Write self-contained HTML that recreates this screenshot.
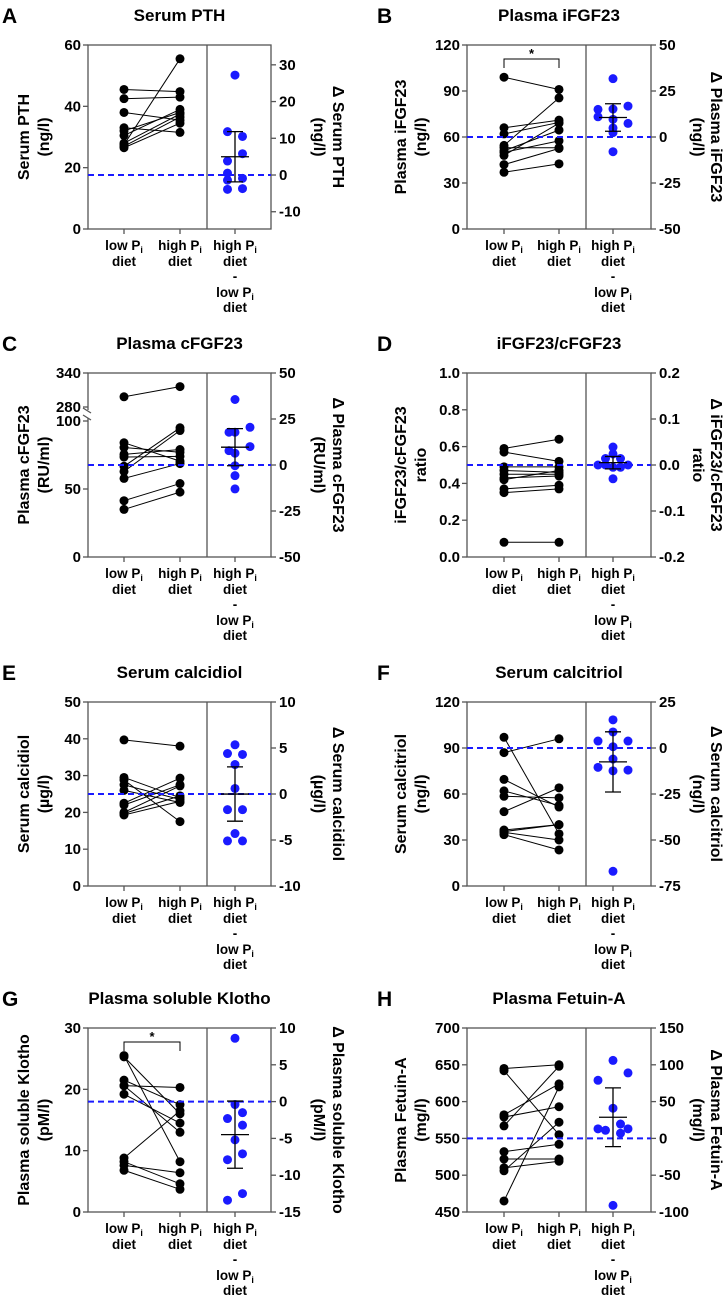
<!DOCTYPE html>
<html><head><meta charset="utf-8"><style>
html,body{margin:0;padding:0;background:#fff;}
svg{display:block;font-family:"Liberation Sans",Arial,sans-serif;font-weight:bold;}
</style></head><body>
<svg id="fig" width="723" height="1299" viewBox="0 0 723 1299" xmlns="http://www.w3.org/2000/svg"></svg>
<script>
// ---- data (pairs: low[i] -> high[i]; deltas with jitter column) ----
const lowA=[45.5,42.5,38,33,32,30.5,28,27.5,27,26.5];
const highA=[44.8,43,35.5,31.5,38,39,37.5,55.5,36.5,34.5];
const deltaA=[27.2,11.8,10.5,5.8,3.8,0.5,-1.4,-0.9,-3.9,-3.7];
const jitA=[0,-1,1,1,-1,-1,-1,1,-1,1];
const lowB=[99,66,62,54.5,53,51,50,48,42,37];
const highB=[91,71,69.5,85.5,53,64.5,57.5,69,52.5,42.5];
const deltaB=[31.7,15,15.2,16.8,11,7.4,4.9,-8,2.4,9.6];
const jitB=[0,-2,0,2,-2,2,0,0,0,0];
const lowC=[298,84,80.5,75.5,73.5,66.7,62.9,57.8,41.4,35];
const highC=[316,70.5,77,79,74,95,93,68.7,54,47.7];
const deltaC=[35.6,17.8,17.8,20.5,7.8,10,6.4,-0.4,-5.8,-13];
const jitC=[0,-0.8,0,2,-0.8,2,0,0,0,0];
const lowD=[0.59,0.57,0.49,0.47,0.45,0.43,0.42,0.37,0.35,0.08];
const highD=[0.64,0.52,0.49,0.46,0.45,0.44,0.47,0.39,0.37,0.08];
const deltaD=[0.039,0.024,0.014,0.014,0,0,0,-0.005,-0.005,-0.03];
const jitD=[0,0,-1,1,-2,-1,2,0,1,0];
const lowE=[39.7,29.5,28.8,27.5,26,22.5,22,19.7,19.3,20];
const highE=[38,24,17.5,23.5,22.7,29.3,27.5,24.5,23,27.2];
const deltaE=[5.35,4.4,4.3,3.2,0.6,-1.7,-1.7,-4.3,-5.1,-5.1];
const jitE=[0,-1,1,0,0,-1,1,0,-1,1];
const lowF=[97,87,69.5,62,58.5,48.5,36.5,35.5,35,33.5];
const highF=[34,96,51.5,52.5,57.5,64,40,40,30,23.5];
const deltaF=[15.3,8.7,3.8,3.8,0.7,-6,-10.5,-12.4,-12,-67];
const jitF=[0,0,-2,2,0,0,-2,0,2,0];
const lowG=[25.5,25.3,21.5,20.6,20.6,19.2,8.8,8.2,7.6,6.8];
const highG=[8.2,16,17.5,20.3,13,14.5,16.5,4.6,6.4,3.7];
const deltaG=[8.6,-0.4,-1.5,-2.3,-3.2,-5.2,-7.1,-7.9,-12.5,-13.4];
const jitG=[0,0,1,-1,1,0,1,-1,1,-1];
const lowH=[645,642,582,579,567,532,522,510,506,465];
const highH=[650,555,624,593,648,542,522,519,572,620];
const deltaH=[106,79,89,41,13,11,19.5,7,13,-91];
const jitH=[0,-2,2,0,-2,-1,1,1,2,0];
const leftTicksA=[0,20,40,60], rightTicksA=[-10,0,10,20,30];
const leftTicksB=[0,30,60,90,120], rightTicksB=[-50,-25,0,25,50];
const leftTicksC=[0,50,100,280,340], rightTicksC=[-50,-25,0,25,50];
const leftTicksD=[0,0.2,0.4,0.6,0.8,1.0], rightTicksD=[-0.2,-0.1,0,0.1,0.2];
const leftTicksE=[0,10,20,30,40,50], rightTicksE=[-10,-5,0,5,10];
const leftTicksF=[0,30,60,90,120], rightTicksF=[-75,-50,-25,0,25];
const leftTicksG=[0,10,20,30], rightTicksG=[-15,-10,-5,0,5,10];
const leftTicksH=[450,500,550,600,650,700], rightTicksH=[-100,-50,0,50,100,150];

const NS="http://www.w3.org/2000/svg";
const svg=document.getElementById('fig');
function mk(tag,attrs,parent,text){const e=document.createElementNS(NS,tag);for(const k in attrs)e.setAttribute(k,attrs[k]);if(text!==undefined)e.textContent=text;(parent||svg).appendChild(e);return e;}
const COLS=[{L:88,R:271,D:207,g:[124,180,235],lt1:25,lt2:45,rt1:337,rt2:318,let:2},
            {L:467,R:651,D:586,g:[504,559,613],lt1:402,lt2:422,rt1:715,rt2:697,let:377}];
const TOPS=[45,373,702,1028], H=184;

function panel(c){
  const col=COLS[c.col], top=TOPS[c.row], bot=top+H;
  const g=mk('g',{});
  
  
  const yL=c.yL?c.yL(top,bot):(v=>bot-(v-c.lmin)/(c.lmax-c.lmin)*H);
  const yR=v=>bot-(v-c.rmin)/(c.rmax-c.rmin)*H;
  let t=mk('text',{x:col.let,y:top-22,'font-size':21,fill:'#000'},g,c.letter);
  
  t=mk('text',{x:(col.L+col.R)/2,y:top-24,'font-size':17,'text-anchor':'middle'},g,c.title);
  
  let fr=mk('rect',{x:col.L,y:top,width:col.R-col.L,height:H,fill:'none',stroke:'#555','stroke-width':1.3},g);
  
  let dv=mk('line',{x1:col.D,y1:top,x2:col.D,y2:bot,stroke:'#555','stroke-width':1.3},g);
  
  if(c.brk){
    mk('rect',{x:col.L-8,y:yL(280)+3,width:12,height:yL(100)-yL(280)-6,fill:'#fff'},g);
    mk('line',{x1:col.L-5,y1:yL(280)+1,x2:col.L+3,y2:yL(280)+6,stroke:'#555','stroke-width':1.3},g);
    mk('line',{x1:col.L-5,y1:yL(100)-6,x2:col.L+3,y2:yL(100)-1,stroke:'#555','stroke-width':1.3},g);
  }
  c.lt.forEach(v=>{const y=yL(v);
    mk('line',{x1:col.L-5,y1:y,x2:col.L,y2:y,stroke:'#555','stroke-width':1.3},g);
    const e=mk('text',{x:col.L-7,y:y+5,'font-size':15,'text-anchor':'end'},g,c.fmt?v.toFixed(1):String(v));
    });
  c.rt.forEach(v=>{const y=yR(v);
    mk('line',{x1:col.R,y1:y,x2:col.R+5,y2:y,stroke:'#555','stroke-width':1.3},g);
    const e=mk('text',{x:col.R+8,y:y+5,'font-size':15},g,c.fmt?v.toFixed(1):String(v));
    });
  col.g.forEach(x=>mk('line',{x1:x,y1:bot,x2:x,y2:bot+5,stroke:'#555','stroke-width':1.3},g));
  const cy=(top+bot)/2;
  [[col.lt1,c.ly[0]],[col.lt2,c.ly[1]]].forEach(([x,s])=>{const e=mk('text',{x:x,y:cy,'font-size':16,'text-anchor':'middle',transform:`rotate(-90 ${x} ${cy})`,'dominant-baseline':'middle'},g,s);
    });
  [[col.rt1,c.ry[0]],[col.rt2,c.ry[1]]].forEach(([x,s])=>{const e=mk('text',{x:x,y:cy,'font-size':16,'text-anchor':'middle',transform:`rotate(90 ${x} ${cy})`,'dominant-baseline':'middle'},g,s);
    });
  const xl=(x,y,txt,sub)=>{const e=mk('text',{x:x,y:y,'font-size':13.5,'text-anchor':'middle'},g);
    e.appendChild(document.createTextNode(txt));
    if(sub){mk('tspan',{'font-size':9,dy:3},e,'i');}
    };
  xl(col.g[0],bot+21,'low P',1);xl(col.g[0],bot+37,'diet');
  xl(col.g[1],bot+21,'high P',1);xl(col.g[1],bot+37,'diet');
  xl(col.g[2],bot+21,'high P',1);xl(col.g[2],bot+37,'diet');xl(col.g[2],bot+52,'-');xl(col.g[2],bot+68,'low P',1);xl(col.g[2],bot+83,'diet');
  if(c.sig){const y=top+14;
    const p=mk('path',{d:`M${col.g[0]} ${y+9}V${y}H${col.g[1]}V${y+9}`,fill:'none',stroke:'#000','stroke-width':1},g);
    
    const s=mk('text',{x:(col.g[0]+col.g[1])/2,y:y-1,'font-size':13,'text-anchor':'middle'},g,'*');
    }
  c.low.forEach((v,i)=>{const l=mk('line',{x1:col.g[0],y1:yL(v),x2:col.g[1],y2:yL(c.high[i]),stroke:'#000','stroke-width':1},g);
    });
  c.low.forEach(v=>{const d=mk('circle',{cx:col.g[0],cy:yL(v),r:4.5,fill:'#000'},g);
    });
  c.high.forEach(v=>{const d=mk('circle',{cx:col.g[1],cy:yL(v),r:4.5,fill:'#000'},g);
    });
  const z=mk('line',{x1:col.L,y1:yR(0),x2:col.R,y2:yR(0),stroke:'#1a1aff','stroke-width':2,'stroke-dasharray':'6,4'},g);
  
  c.d.forEach((v,i)=>{const d=mk('circle',{cx:col.g[2]+c.j[i]*7.5,cy:yR(v),r:4.5,fill:'#1a1aff'},g);
    });
  const n=c.d.length, m=c.d.reduce((a,b)=>a+b,0)/n;
  const sd=Math.sqrt(c.d.reduce((a,b)=>a+(b-m)*(b-m),0)/(n-1));
  const tq={8:2.365,9:2.306,10:2.262,11:2.228}[n]||2.26;
  const ci=tq*sd/Math.sqrt(n), x=col.g[2];
  const eb=mk('path',{d:`M${x-14} ${yR(m)}H${x+14}M${x} ${yR(m+ci)}V${yR(m-ci)}M${x-8} ${yR(m+ci)}H${x+8}M${x-8} ${yR(m-ci)}H${x+8}`,fill:'none',stroke:'#000','stroke-width':1.3},g);
  
}
const yC=(top,bot)=>(v=>v<=100? bot-v*136/100 : top+(340-v)*34/60);
panel({letter:'A',title:'Serum PTH',col:0,row:0,lmin:0,lmax:60,rmin:-14.7,rmax:35.4,lt:leftTicksA,rt:rightTicksA,low:lowA,high:highA,d:deltaA,j:jitA,ly:['Serum PTH','(ng/l)'],ry:['Δ Serum PTH','(ng/l)']});
panel({letter:'B',title:'Plasma iFGF23',col:1,row:0,lmin:0,lmax:120,rmin:-50,rmax:50,lt:leftTicksB,rt:rightTicksB,low:lowB,high:highB,d:deltaB,j:jitB,sig:1,ly:['Plasma iFGF23','(ng/l)'],ry:['Δ Plasma iFGF23','(ng/l)']});
panel({letter:'C',title:'Plasma cFGF23',col:0,row:1,yL:yC,brk:1,rmin:-50,rmax:50,lt:leftTicksC,rt:rightTicksC,low:lowC,high:highC,d:deltaC,j:jitC,ly:['Plasma cFGF23','(RU/ml)'],ry:['Δ Plasma cFGF23','(RU/ml)']});
panel({letter:'D',title:'iFGF23/cFGF23',col:1,row:1,lmin:0,lmax:1,rmin:-0.2,rmax:0.2,fmt:1,lt:leftTicksD,rt:rightTicksD,low:lowD,high:highD,d:deltaD,j:jitD,ly:['iFGF23/cFGF23','ratio'],ry:['Δ iFGF23/cFGF23','ratio']});
panel({letter:'E',title:'Serum calcidiol',col:0,row:2,lmin:0,lmax:50,rmin:-10,rmax:10,lt:leftTicksE,rt:rightTicksE,low:lowE,high:highE,d:deltaE,j:jitE,ly:['Serum calcidiol','(µg/l)'],ry:['Δ Serum calcidiol','(µg/l)']});
panel({letter:'F',title:'Serum calcitriol',col:1,row:2,lmin:0,lmax:120,rmin:-75,rmax:25,lt:leftTicksF,rt:rightTicksF,low:lowF,high:highF,d:deltaF,j:jitF,ly:['Serum calcitriol','(ng/l)'],ry:['Δ Serum calcitriol','(ng/l)']});
panel({letter:'G',title:'Plasma soluble Klotho',col:0,row:3,lmin:0,lmax:30,rmin:-15,rmax:10,lt:leftTicksG,rt:rightTicksG,low:lowG,high:highG,d:deltaG,j:jitG,sig:1,ly:['Plasma soluble Klotho','(pM/l)'],ry:['Δ Plasma soluble Klotho','(pM/l)']});
panel({letter:'H',title:'Plasma Fetuin-A',col:1,row:3,lmin:450,lmax:700,rmin:-100,rmax:150,lt:leftTicksH,rt:rightTicksH,low:lowH,high:highH,d:deltaH,j:jitH,ly:['Plasma Fetuin-A','(mg/l)'],ry:['Δ Plasma Fetuin-A','(mg/l)']});
</script>
</body></html>
